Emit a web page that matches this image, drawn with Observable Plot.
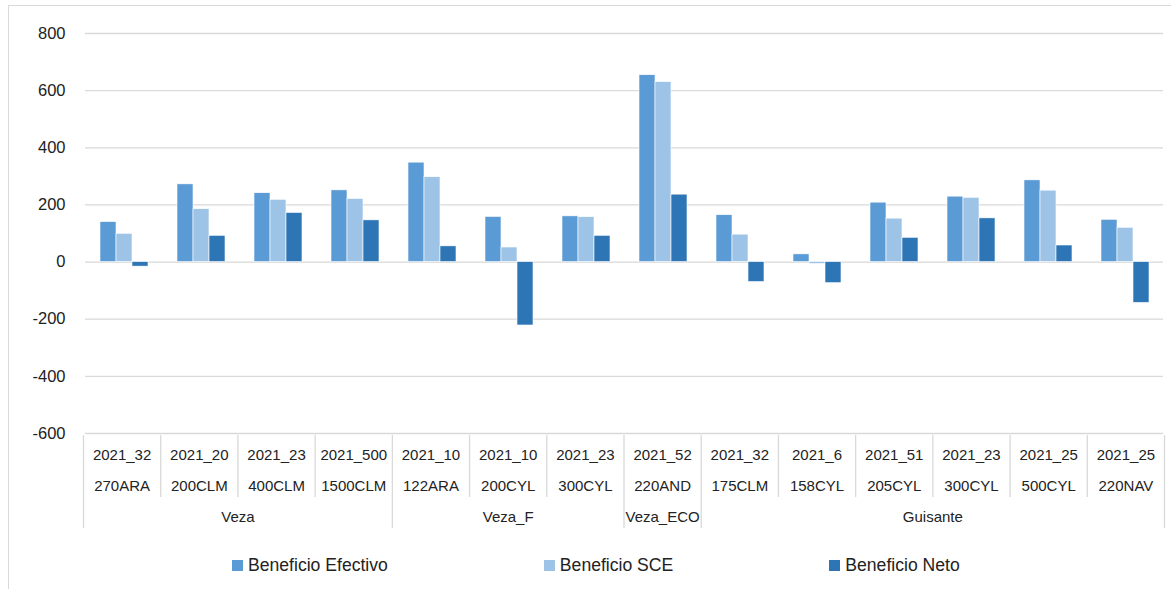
<!DOCTYPE html>
<html>
<head>
<meta charset="utf-8">
<script src="https://cdn.jsdelivr.net/npm/d3@7"></script>
<script src="https://cdn.jsdelivr.net/npm/@observablehq/plot@0.6"></script>
<style>
  html, body { margin: 0; padding: 0; background: #fff; overflow: hidden; }
  body { width: 1171px; height: 589px; position: relative; font-family: "Liberation Sans", Arial, sans-serif; }
  #border { position: absolute; left: 8px; top: 5px; width: 1300px; height: 700px; border-top: 1px solid #d9d9d9; border-left: 1px solid #d9d9d9; }
  #chart { position: absolute; left: 0; top: 0; }
  #chart svg { display: block; overflow: visible; }
  #legend { position: absolute; left: 232px; top: 555px; display: flex; gap: 156px; align-items: center; font-size: 17.6px; color: #222; }
  .item { display: flex; align-items: center; white-space: nowrap; }
  .sw { width: 11px; height: 11px; margin-right: 5px; }
</style>
</head>
<body>
<div id="border"></div>
<div id="chart"></div>
<div id="legend"></div>
<script>
// ---- data ----
const codes = ["2021_32","2021_20","2021_23","2021_500","2021_10","2021_10","2021_23","2021_52","2021_32","2021_6","2021_51","2021_23","2021_25","2021_25"];
const sites = ["270ARA","200CLM","400CLM","1500CLM","122ARA","200CYL","300CYL","220AND","175CLM","158CYL","205CYL","300CYL","500CYL","220NAV"];
const groups = ["Veza","Veza_F","Veza_ECO","Guisante"];
const groupSizes = [4, 3, 1, 6];
const series = ["Beneficio Efectivo","Beneficio SCE","Beneficio Neto"];
const efectivo = [140, 272, 241, 251, 348, 158, 160, 654, 164, 27, 208, 229, 286, 148];
const sce      = [99, 185, 218, 221, 297, 51, 157, 630, 96, -7, 152, 225, 250, 120];
const neto     = [-16, 92, 172, 146, 55, -222, 92, 236, -70, -74, 85, 153, 58, -143];
const yTicks = [-600, -400, -200, 0, 200, 400, 600, 800];
const colors = ["#5B9BD5", "#9DC3E6", "#2E75B6"];

// ---- derived tables ----
const n = codes.length;
const valuesBySeries = [efectivo, sce, neto];
const rows = [];
for (let i = 0; i < n; i++) {
  series.forEach((s, k) => rows.push({i, series: s, value: valuesBySeries[k][i]}));
}
const groupRows = [];
let start = 0;
groups.forEach((g, k) => { groupRows.push({name: g, start, end: start + groupSizes[k]}); start += groupSizes[k]; });
const groupBounds = [0, ...groupRows.map(d => d.end)];
const labelRows = d3.range(n).flatMap(i => [{i, row: "code", text: codes[i]}, {i, row: "site", text: sites[i]}]);
const sepTicks = [];
for (let b = 0; b <= n; b++) {
  sepTicks.push({x: b, row: "code"}, {x: b, row: "site"});
  if (groupBounds.includes(b)) sepTicks.push({x: b, row: "group"});
}

const font = "'Liberation Sans', Arial, sans-serif";
const gridColor = "#d9d9d9";
const mL = 83, mR = 7;

const main = Plot.plot({
  width: 1171,
  height: 434,
  marginTop: 33,
  marginBottom: 1,
  marginLeft: mL,
  marginRight: mR,
  style: {fontFamily: font, background: "transparent", color: "#222", overflow: "visible"},
  fx: {domain: d3.range(n), paddingInner: 0, paddingOuter: 0, axis: null, label: null},
  x: {domain: series, paddingInner: 0, paddingOuter: 0.85, axis: null},
  y: {domain: [-600, 800], label: null},
  color: {domain: series, range: colors},
  marks: [
    Plot.gridY(yTicks, {stroke: gridColor, strokeOpacity: 1, strokeWidth: 1.3}),
    Plot.axisY(yTicks, {tickSize: 0, tickPadding: 20, fontSize: 16.5, label: null, tickFormat: d => String(d)}),
    Plot.barY(rows, {fx: "i", x: "series", y: "value", fill: "series", stroke: "white", strokeWidth: 0.6})
  ]
});

const table = Plot.plot({
  width: 1171,
  height: 95,
  marginTop: 0,
  marginBottom: 0,
  marginLeft: mL,
  marginRight: mR,
  style: {fontFamily: font, background: "transparent", color: "#222"},
  x: {domain: [0, n], axis: null},
  y: {type: "band", domain: ["code", "site", "group"], paddingInner: 0, paddingOuter: 0, axis: null},
  marks: [
    Plot.tickX(sepTicks, {x: "x", y: "row", stroke: gridColor, strokeWidth: 1.3}),
    Plot.text(labelRows, {x: d => d.i + 0.5, y: "row", text: "text", fontSize: 15, dy: 4.5, fill: "#222"}),
    Plot.text(groupRows, {x: d => (d.start + d.end) / 2, y: () => "group", text: "name", fontSize: 15, dy: 4, fill: "#222"})
  ]
});

const chart = document.getElementById("chart");
chart.appendChild(main);
chart.appendChild(table);

const legend = document.getElementById("legend");
series.forEach((s, k) => {
  const item = document.createElement("div");
  item.className = "item";
  const sw = document.createElement("span");
  sw.className = "sw";
  sw.style.background = colors[k];
  const t = document.createElement("span");
  t.textContent = s;
  item.appendChild(sw);
  item.appendChild(t);
  legend.appendChild(item);
});
</script>
</body>
</html>
